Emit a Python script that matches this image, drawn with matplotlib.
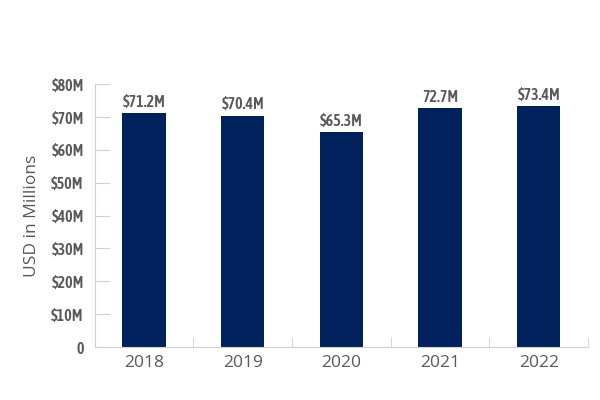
import matplotlib
matplotlib.use("Agg")
import matplotlib.pyplot as plt

years = ['2018', '2019', '2020', '2021', '2022']
values = [71.2, 70.4, 65.3, 72.7, 73.4]
bar_labels = ['$71.2M', '$70.4M', '$65.3M', '72.7M', '$73.4M']
y_ticks = [0, 10, 20, 30, 40, 50, 60, 70, 80]
y_tick_labels = ['0', '$10M', '$20M', '$30M', '$40M', '$50M', '$60M', '$70M', '$80M']

navy = '#00215b'
grey = '#595959'
line_grey = '#d0d0d0'
cond = ['Asap Condensed', 'DejaVu Sans']
plain = ['Open Sans', 'DejaVu Sans']

fig = plt.figure(figsize=(6, 4), dpi=100)
ax = fig.add_axes([0.158, 0.1325, 0.822, 0.6575])

x = range(len(years))
bars = ax.bar(x, values, width=0.44, color=navy)

for b, lab in zip(bars, bar_labels):
    ax.text(b.get_x() + b.get_width() / 2, b.get_height() + 0.7, lab,
            ha='center', va='bottom', fontsize=11.5, fontweight=600,
            color=grey, family=cond)

ax.set_xlim(-0.5, len(years) - 0.5)
ax.set_ylim(0, 80)
ax.set_yticks(y_ticks)
ax.set_yticklabels(y_tick_labels, fontsize=11.5, fontweight=600, color=grey,
                   family=cond)
ax.set_xticks(list(x))
ax.set_xticklabels(years, fontsize=12.5, color=grey, family=plain)
ax.tick_params(axis='x', length=0, pad=6)
# category boundary ticks on the x axis
ax.set_xticks([i - 0.5 for i in range(len(years) + 1)], minor=True)
ax.tick_params(axis='x', which='minor', direction='in', length=7, color=line_grey)
ax.tick_params(axis='y', direction='in', length=11, color=line_grey, pad=8)

ax.set_ylabel('USD in Millions', fontsize=12.5, color=grey, labelpad=8, family=plain)

for s in ['top', 'right']:
    ax.spines[s].set_visible(False)
for s in ['left', 'bottom']:
    ax.spines[s].set_color(line_grey)

fig.savefig('out.png', dpi=100)
